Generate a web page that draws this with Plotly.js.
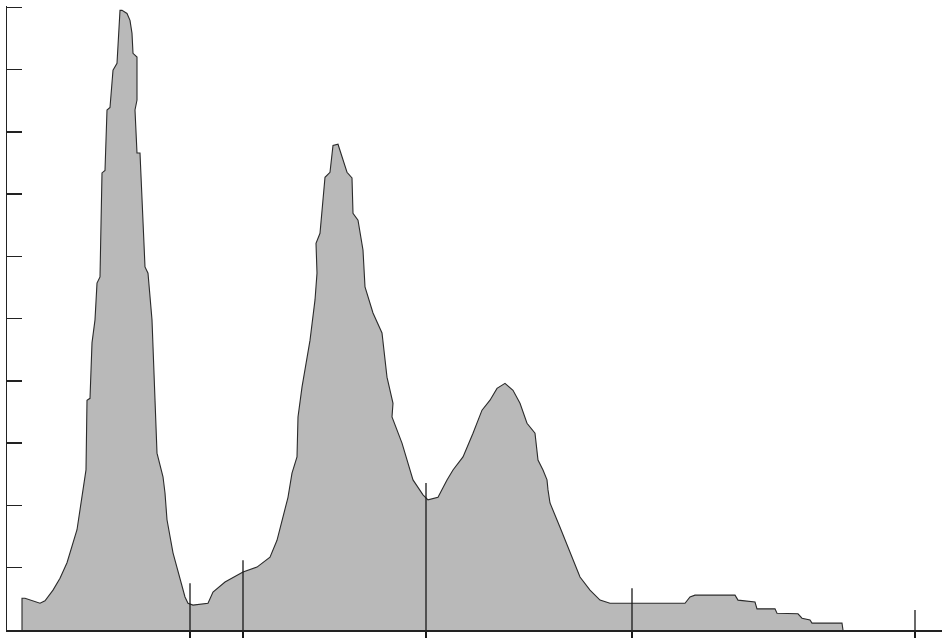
<!DOCTYPE html>
<html>
<head>
<meta charset="utf-8">
<script src="https://cdn.plot.ly/plotly-3.0.1.min.js"></script>
<style>html,body{margin:0;padding:0;background:#fff;}#chart{width:942px;height:638px;}</style>
</head>
<body>
<div id="chart"></div>
<script>
// Channel positions (arbitrary units) of the histogram outline
const channel = [15,15,18,25,33,38,46,53,60,70,76,79,80,83,85,88,90,93,95,98,100,103,106,110,113,115,120,123,125,126,130,130,128,130,133,138,141,145,150,156,158,160,166,173,178,181,186,201,206,218,236,250,263,270,275,281,285,290,291,295,303,308,310,309,313,315,318,323,326,331,335,340,345,346,351,356,358,366,375,380,386,385,395,406,416,421,431,440,446,456,466,475,483,490,498,506,513,520,528,531,536,540,541,543,553,563,573,583,593,603,678,683,688,728,731,748,750,768,770,791,795,803,805,835,836];
// Counts (arbitrary units) at each outline point
const counts = [0,0.51,0.51,0.47,0.43,0.47,0.64,0.83,1.08,1.61,2.25,2.57,3.69,3.72,4.61,4.98,5.57,5.67,7.34,7.38,8.35,8.39,8.99,9.10,9.95,9.95,9.90,9.79,9.58,9.26,9.20,8.51,8.35,7.66,7.66,5.83,5.73,4.98,2.84,2.46,2.20,1.77,1.24,0.80,0.53,0.43,0.40,0.43,0.61,0.77,0.93,1.01,1.17,1.44,1.77,2.13,2.52,2.78,3.42,3.90,4.65,5.30,5.73,6.21,6.37,6.69,7.27,7.35,7.78,7.80,7.59,7.35,7.26,6.69,6.58,6.10,5.51,5.09,4.77,4.06,3.64,3.42,3.00,2.41,2.17,2.09,2.13,2.41,2.57,2.78,3.16,3.53,3.69,3.88,3.96,3.85,3.64,3.32,3.16,2.73,2.57,2.41,2.25,2.04,1.65,1.24,0.85,0.64,0.48,0.43,0.43,0.53,0.56,0.56,0.48,0.45,0.34,0.34,0.27,0.26,0.19,0.16,0.11,0.11,0];
// Gate / marker positions and their heights
const markerPos = [183,236,419,625,908];
const markerHeight = [0.75,1.12,2.36,0.67,0.32];
const yTicks = [1,2,3,4,5,6,7,8,9,10];

const mx = [], my = [];
markerPos.forEach((p,i)=>{ mx.push(p,p,null); my.push(0,markerHeight[i],null); });

const traces = [
  {x: channel, y: counts, type:'scatter', mode:'lines', fill:'tozeroy',
   fillcolor:'#b9b9b9', line:{color:'#2a2a2a', width:1.1, shape:'linear'}, hoverinfo:'skip'},
  {x: mx, y: my, type:'scatter', mode:'lines', line:{color:'#1a1a1a', width:1.3}, hoverinfo:'skip'}
];

const layout = {
  width:942, height:638,
  margin:{l:7, r:0, t:6, b:8},
  paper_bgcolor:'#fff', plot_bgcolor:'#fff',
  showlegend:false,
  xaxis:{range:[0,935], showline:true, linecolor:'#222', linewidth:1.5, showgrid:false, zeroline:false,
         ticks:'outside', tickvals:markerPos, ticklen:7, tickwidth:1.3, tickcolor:'#1a1a1a', showticklabels:false},
  yaxis:{range:[0,10.02], showline:true, linecolor:'#222', linewidth:1.5, showgrid:false, zeroline:false,
         ticks:'inside', tickvals:yTicks, ticklen:15, tickwidth:1.5, tickcolor:'#222', showticklabels:false}
};
Plotly.newPlot('chart', traces, layout, {displayModeBar:false, staticPlot:true});
</script>
</body>
</html>
